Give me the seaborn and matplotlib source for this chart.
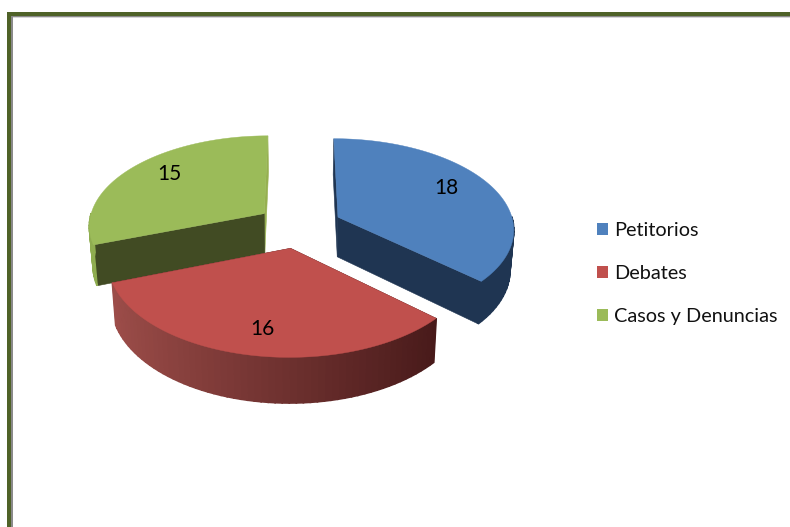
import matplotlib
matplotlib.use('Agg')
import matplotlib.pyplot as plt
from matplotlib.patches import Patch, Rectangle
import seaborn as sns
import numpy as np

# Data
categories = ['Petitorios', 'Debates', 'Casos y Denuncias']
values = [18, 16, 15]

# Colours: top, cut face at start angle, cut face at end angle, rim left, rim right
top_colors = ['#4F81BD', '#C0504D', '#9BBB59']
start_face = ['#1F3552', '#4F1D1C', '#414B23']
end_face = ['#1F3552', '#4F1D1C', '#96B050']
rim_left = ['#1F3552', '#A04F4B', '#8FAD50']
rim_right = ['#1F3552', '#481A1A', '#8FAD50']

sns.set_theme(style='white')
plt.rcParams['font.family'] = ['Lato', 'DejaVu Sans']

fig = plt.figure(figsize=(7.9, 5.27), dpi=100)
ax = fig.add_axes([0, 0, 1, 1])
ax.set_xlim(0, 790)
ax.set_ylim(527, 0)
ax.axis('off')

# Frame of the picture
ax.add_patch(Rectangle((11, 16), 779, 2, color='#D8D8D8', lw=0))
ax.add_patch(Rectangle((11, 16), 2, 511, color='#8A8A8A', lw=0))
ax.add_patch(Rectangle((13, 16), 777, 1, color='#8A8A8A', lw=0))
ax.add_patch(Rectangle((7, 12), 783, 4, color='#4F6228', lw=0))
ax.add_patch(Rectangle((7, 12), 4, 515, color='#4F6228', lw=0))

# Projection of the tilted pie
CX, CY = 299, 226
SX, SY = 176, 90
PERSP = 0.121
DEPTH = 40
EXPLODE = 0.245


def project(x, y, drop=0.0):
    w = 1 + PERSP * y
    sx = SX * x / w
    return CX + sx * (1 - 0.018 * drop), CY - SY * y / w + drop * DEPTH / (1 + 0.1 * y)


def mix(c0, c1, t):
    a = np.array(matplotlib.colors.to_rgb(c0))
    b = np.array(matplotlib.colors.to_rgb(c1))
    return tuple(a + (b - a) * t)


total = sum(values)
ends = 90 - np.cumsum(values) / total * 360
starts = np.concatenate([[90], ends[:-1]])


def draw_sides(i):
    a0, a1 = np.radians(starts[i]), np.radians(ends[i])
    mid = (a0 + a1) / 2
    ox, oy = EXPLODE * np.cos(mid), EXPLODE * np.sin(mid)
    for ang, col in [(a1, end_face[i]), (a0, start_face[i])]:
        ex, ey = ox + np.cos(ang), oy + np.sin(ang)
        pts = [project(ox, oy), project(ex, ey), project(ex, ey, 1), project(ox, oy, 1)]
        ax.fill(*zip(*pts), color=col, lw=0.4)
    steps = np.linspace(a0, a1, 60)
    for s0, s1 in zip(steps[:-1], steps[1:]):
        if np.sin((s0 + s1) / 2) > 0.02:
            continue
        x0, y0 = ox + np.cos(s0), oy + np.sin(s0)
        x1, y1 = ox + np.cos(s1), oy + np.sin(s1)
        pts = [project(x0, y0), project(x1, y1), project(x1, y1, 1), project(x0, y0, 1)]
        col = mix(rim_left[i], rim_right[i], np.clip((np.cos(s0) + 1) / 1.75, 0, 1))
        ax.fill(*zip(*pts), color=col, lw=1.2)


def draw_top(i):
    a0, a1 = np.radians(starts[i]), np.radians(ends[i])
    mid = (a0 + a1) / 2
    ox, oy = EXPLODE * np.cos(mid), EXPLODE * np.sin(mid)
    arc = np.linspace(a0, a1, 120)
    xs = np.concatenate([[ox], ox + np.cos(arc)])
    ys = np.concatenate([[oy], oy + np.sin(arc)])
    ax.fill(*project(xs, ys), color=top_colors[i], lw=0.3)
    lx, ly = project(ox + 0.72 * np.cos(mid), oy + 0.8 * np.sin(mid))
    ax.text(lx, ly - 2, str(values[i]), ha='center', va='center', fontsize=15, color='black')


# Back slices first so the red one sits in front
for i in [2, 0, 1]:
    draw_sides(i)
    draw_top(i)

handles = [Patch(facecolor=c, edgecolor='none', label=n) for c, n in zip(top_colors, categories)]
ax.legend(handles=handles, loc='center left', bbox_to_anchor=(597 / 790, 1 - 273.5 / 527),
          frameon=False, fontsize=14.3, borderpad=0, borderaxespad=0,
          handlelength=0.55, handleheight=0.55, handletextpad=0.3, labelspacing=1.33,
          labelcolor='#111111')

plt.savefig('out.png', dpi=100)
